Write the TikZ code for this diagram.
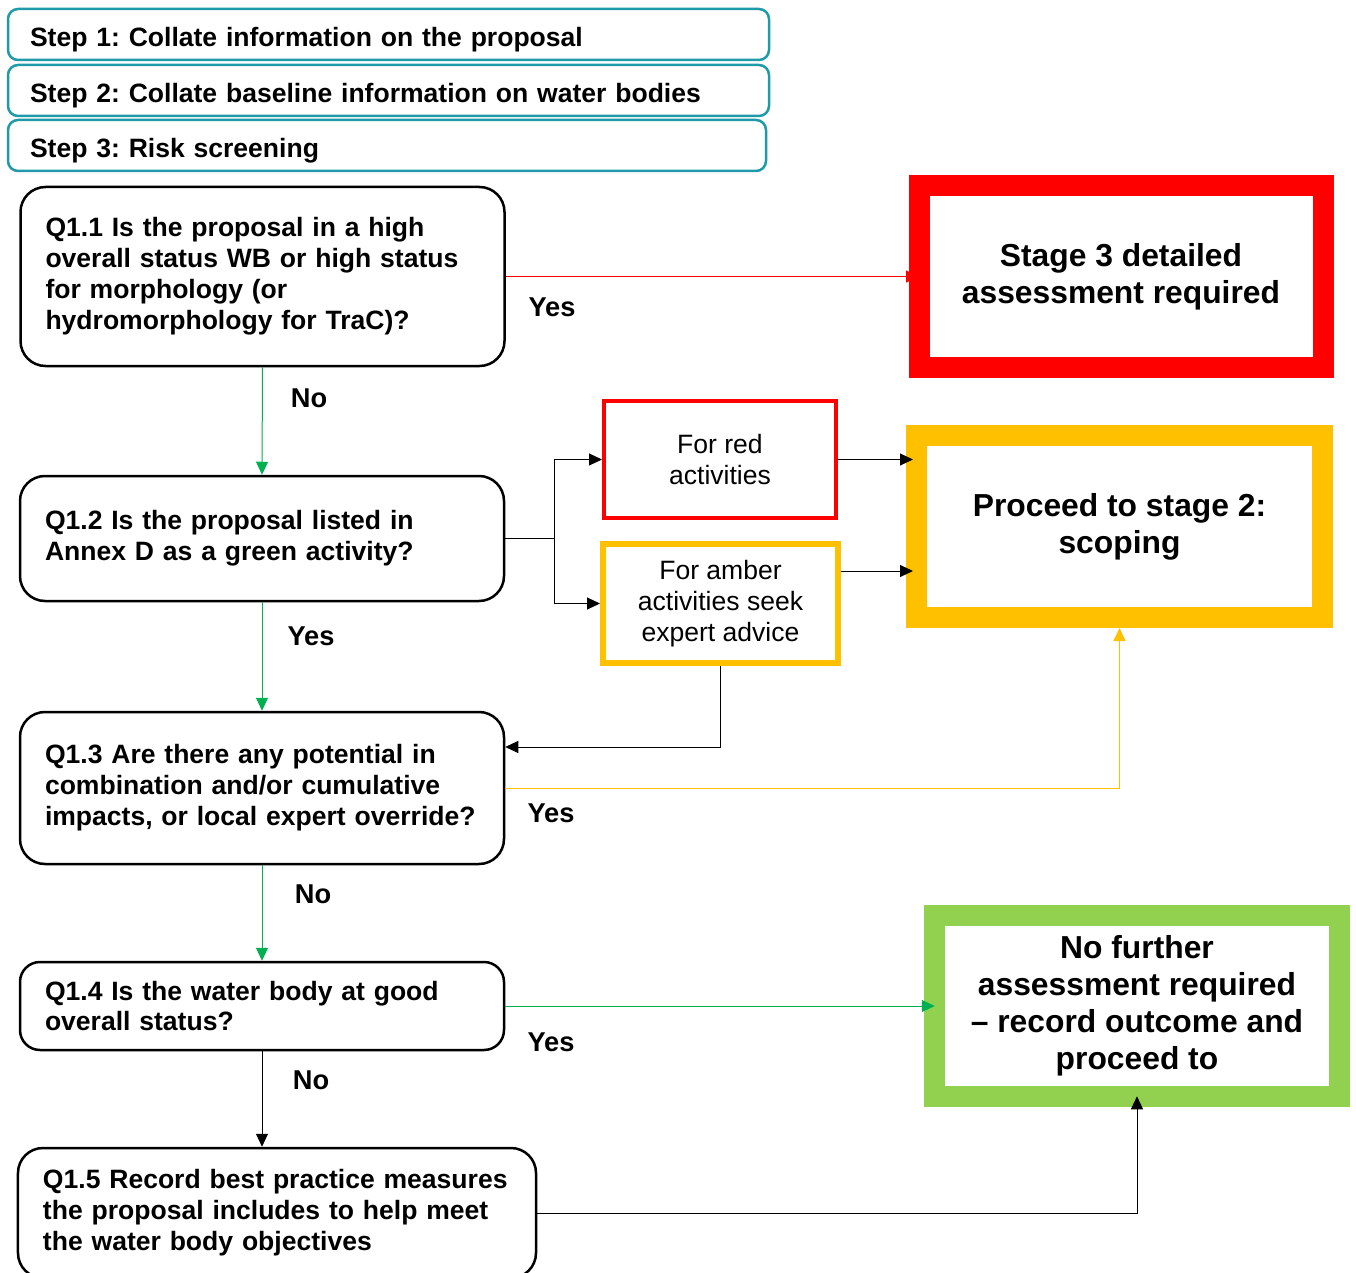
\documentclass[tikz,border=0pt]{standalone}
\usepackage{fontspec}
\setmainfont{Liberation Sans}
\usepackage{xcolor}
\usepackage{tikz}
\usetikzlibrary{positioning,arrows.meta,calc}
\frenchspacing

\definecolor{stepteal}{HTML}{1F9AA8}
\definecolor{amber}{HTML}{FFC000}
\definecolor{okgreen}{HTML}{00B050}
\definecolor{boxgreen}{HTML}{92D050}
\newcommand{\lowtxt}[1]{\raisebox{-0.1cm}[\height][\depth]{#1}}

\begin{document}
\begin{tikzpicture}[
  font=\fontsize{15.1}{17.6}\selectfont\bfseries,
  stepbox/.style={draw=stepteal, line width=0.05cm, rounded corners=0.2cm, align=left, inner xsep=0.44cm, text width=14.34cm, minimum height=1.02cm},
  ques/.style={draw, line width=0.05cm, rounded corners=0.5cm, align=left, inner xsep=0.5cm, text width=8.68cm},
  outcome/.style={draw, line width=0.42cm, outer sep=0pt, align=center, font=\fontsize{18.1}{21}\selectfont\bfseries},
  act/.style={draw, align=center, font=\fontsize{15.1}{17.6}\selectfont, minimum width=4.64cm, minimum height=2.34cm},
  lbl/.style={font=\fontsize{15.5}{18}\selectfont\bfseries},
  arr/.style={-{Triangle[length=2.6mm,width=2.4mm]}, line width=0.02cm}]
\useasboundingbox (0,0) rectangle (27.12,-25.46);
% steps
\node[stepbox] (s1) at (7.77,-0.69) {\lowtxt{Step 1: Collate information on the proposal}};
\node[stepbox] (s2) at (7.77,-1.81) {\lowtxt{Step 2: Collate baseline information on water bodies}};
\node[stepbox, text width=14.28cm] (s3) at (7.74,-2.91) {\lowtxt{Step 3: Risk screening}};
% questions
\node[ques, minimum height=3.58cm] (q11) at (5.25,-5.53) {Q1.1 Is the proposal in a high\\overall status WB or high status\\for morphology (or\\hydromorphology for TraC)?};
\node[ques, minimum height=2.5cm] (q12) at (5.24,-10.77) {Q1.2 Is the proposal listed in\\Annex D as a green activity?};
\node[ques, minimum height=3.04cm] (q13) at (5.24,-15.76) {Q1.3 Are there any potential in\\combination and/or cumulative\\impacts, or local expert override?};
\node[ques, minimum height=1.76cm, rounded corners=0.4cm] (q14) at (5.24,-20.12) {Q1.4 Is the water body at good\\overall status?};
\node[ques, minimum height=2.6cm, text width=9.36cm] (q15) at (5.54,-24.26) {Q1.5 Record best practice measures\\the proposal includes to help meet\\the water body objectives};
% outcomes
\node[outcome, draw=red, minimum width=8.08cm, minimum height=3.62cm] (stg3) at (22.42,-5.53) {Stage 3 detailed\\assessment required};
\node[outcome, draw=amber, minimum width=8.12cm, minimum height=3.64cm] (stg2) at (22.39,-10.53) {Proceed to stage 2:\\scoping};
\node[outcome, draw=boxgreen, minimum width=8.09cm, minimum height=3.61cm] (nofur) at (22.74,-20.12) {No further\\assessment required\\– record outcome and\\proceed to};
\node[act, draw=red, line width=0.08cm] (red) at (14.4,-9.19) {For red\\activities};
\node[act, draw=amber, line width=0.12cm, minimum width=4.7cm, minimum height=2.38cm] (amb) at (14.41,-12.07) {For amber\\activities seek\\expert advice};
% connectors
\draw[arr, red] (q11.east) -- (stg3.west);
\draw[arr, okgreen] (q11.south) -- (q12.north);
\draw[arr, okgreen] (q12.south) -- (q13.north);
\draw[arr, okgreen] (q13.south) -- (q14.north);
\draw[arr] (q14.south) -- (q14.south |- q15.north);
\draw[arr] (q12.east) -- ++(0.98,0) |- (red.west);
\draw[arr] (q12.east) -- ++(0.98,0) |- (amb.west);
\draw[arr] (red.east) -- ([xshift=-0.07cm]red.east -| stg2.west);
\draw[arr] ([yshift=0.65cm]amb.east) -- ([xshift=-0.07cm,yshift=0.65cm]amb.east -| stg2.west);
\draw[arr] (amb.south) |- ([yshift=0.82cm]q13.east);
\draw[arr, amber, shorten >=0.21cm] (q13.east) -| (stg2.south);
\draw[arr, okgreen] (q14.east) -- (nofur.west);
\draw[arr] (q15.east) -| (nofur.south);
% labels
\node[lbl] (y1) at (11.04,-6.14) {Yes};
\node[lbl] (n1) at (6.18,-7.96) {No};
\node[lbl] (y2) at (6.22,-12.72) {Yes};
\node[lbl] (y3) at (11.02,-16.26) {Yes};
\node[lbl] (n2) at (6.26,-17.88) {No};
\node[lbl] (y4) at (11.02,-20.84) {Yes};
\node[lbl] (n3) at (6.22,-21.6) {No};
\end{tikzpicture}
\end{document}
